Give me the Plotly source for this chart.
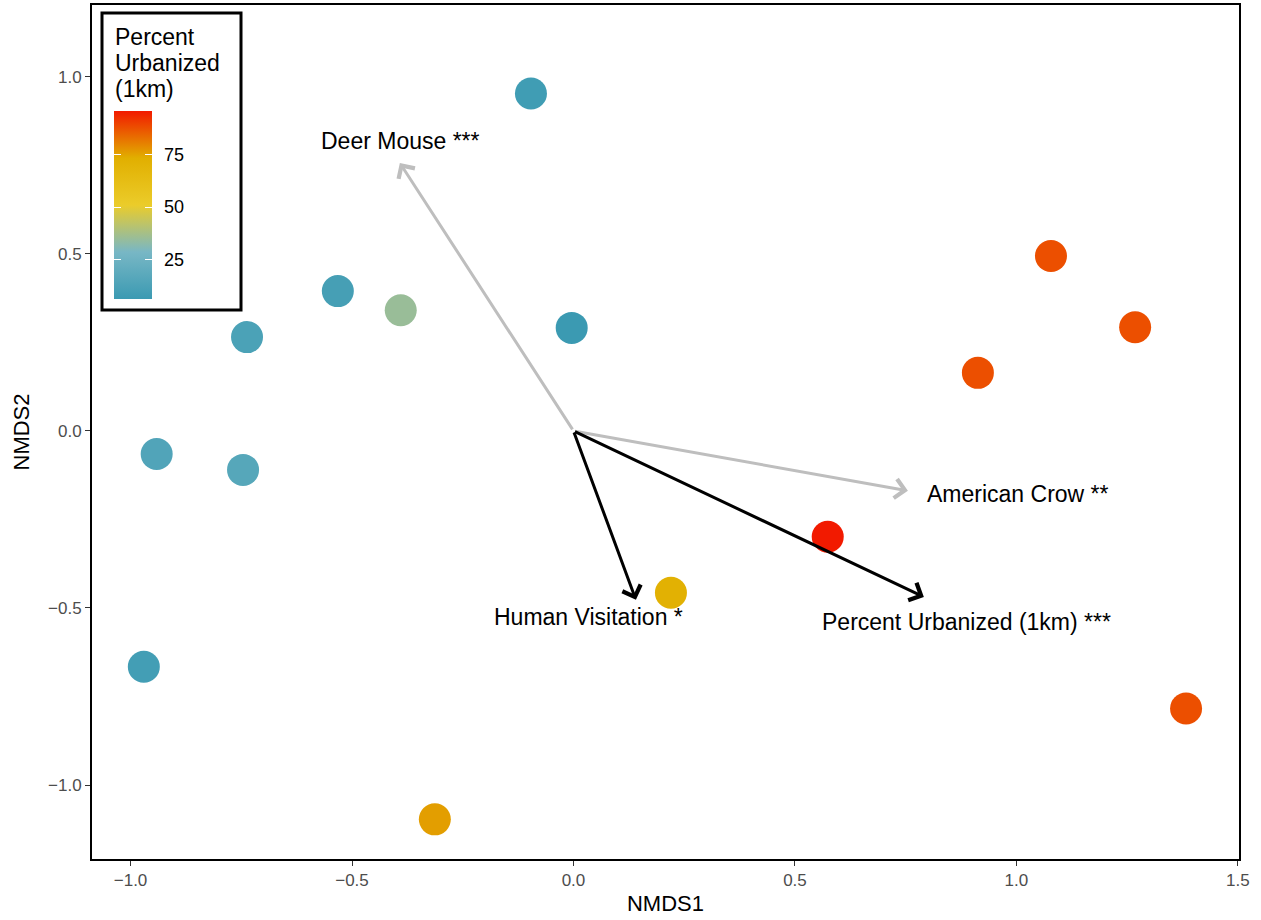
import plotly.graph_objects as go

# ---- data ----
nmds1 = [-0.096, -0.532, -0.390, -0.737, -0.004, -0.941, -0.746, -0.970,
         -0.313, 0.220, 0.574, 0.913, 1.078, 1.268, 1.383]
nmds2 = [0.953, 0.395, 0.341, 0.265, 0.291, -0.065, -0.110, -0.666,
         -1.097, -0.457, -0.299, 0.164, 0.494, 0.293, -0.784]
pct_urban = [8, 10, 35, 12, 6, 14, 16, 9, 76, 72, 96, 88, 88, 88, 88]

vec_names = ["Deer Mouse ***", "American Crow **", "Human Visitation *",
             "Percent Urbanized (1km) ***"]
vec_x = [-0.392, 0.755, 0.141, 0.791]
vec_y = [0.757, -0.169, -0.477, -0.469]
vec_colors = ["#BEBEBE", "#BEBEBE", "#000000", "#000000"]
lab_x = [-0.390, 1.003, 0.035, 0.888]
lab_y = [0.819, -0.178, -0.525, -0.540]

legend_title_lines = ["Percent", "Urbanized", "(1km)"]
cb_ticks = [25, 50, 75]
zissou = ["#3B9AB2", "#78B7C5", "#EBCC2A", "#E1AF00", "#F21A00"]

# ---- layout geometry (pixels) ----
W, H = 1261, 920
ml, mr, mt, mb = 92, 22, 5, 61
pw, ph = W - ml - mr, H - mt - mb
FONT = "Liberation Sans, Arial, Helvetica"

def px(xp):
    return (xp - ml) / pw

def py(yp):
    return (H - mb - yp) / ph

cmin, cmax = min(pct_urban), max(pct_urban)
bar_left, bar_w, bar_top, bar_len = 114, 38, 111, 188
inner_tick = 7

colorscale = [[i / (len(zissou) - 1), c] for i, c in enumerate(zissou)]
clear_scale = [[0, "rgba(0,0,0,0)"], [1, "rgba(0,0,0,0)"]]

fig = go.Figure()
fig.add_trace(go.Scatter(
    x=nmds1, y=nmds2, mode="markers",
    marker=dict(
        size=32, color=pct_urban, colorscale=colorscale,
        cmin=cmin, cmax=cmax,
        line=dict(width=0), opacity=1,
        showscale=True,
        colorbar=dict(
            thickness=bar_w, thicknessmode="pixels",
            len=bar_len, lenmode="pixels",
            x=px(bar_left), xanchor="left",
            y=py(bar_top + bar_len / 2), yanchor="middle",
            xpad=0, ypad=0, outlinewidth=0, borderwidth=0,
            tickvals=cb_ticks, ticks="outside", ticklen=9,
            tickcolor="rgba(0,0,0,0)", tickwidth=1,
            tickfont=dict(family=FONT, size=18, color="black"),
            title=dict(text=""),
        ),
    ),
    hoverinfo="skip", showlegend=False,
))

# transparent overlay colour bars that only draw white tick marks inside the bar
for left_edge in [bar_left - 1, bar_left + bar_w - inner_tick - 1]:
    fig.add_trace(go.Scatter(
        x=nmds1, y=nmds2, mode="markers",
        marker=dict(
            size=1, color=pct_urban, colorscale=clear_scale,
            cmin=cmin, cmax=cmax, opacity=0, showscale=True,
            colorbar=dict(
                thickness=1, thicknessmode="pixels",
                len=bar_len, lenmode="pixels",
                x=px(left_edge), xanchor="left",
                y=py(bar_top + bar_len / 2), yanchor="middle",
                xpad=0, ypad=0, outlinewidth=0, borderwidth=0,
                tickvals=cb_ticks, ticks="outside", ticklen=inner_tick,
                tickcolor="white", tickwidth=1, showticklabels=False,
                bgcolor="rgba(0,0,0,0)", title=dict(text=""),
            ),
        ),
        hoverinfo="skip", showlegend=False,
    ))

annotations = []
for name, vx, vy, col, lx, ly in zip(vec_names, vec_x, vec_y, vec_colors, lab_x, lab_y):
    annotations.append(dict(
        x=vx, y=vy, ax=0, ay=0, xref="x", yref="y", axref="x", ayref="y",
        text="", showarrow=True, arrowhead=4, arrowsize=1.25, arrowwidth=3,
        arrowcolor=col, standoff=0, startstandoff=0,
    ))
    annotations.append(dict(
        x=lx, y=ly, xref="x", yref="y", text=name, showarrow=False,
        xanchor="center", yanchor="middle",
        font=dict(family=FONT, size=23, color="black"),
    ))

for i, line in enumerate(legend_title_lines):
    annotations.append(dict(
        x=px(113), y=py(37 + i * 26), xref="paper", yref="paper",
        text=line, showarrow=False, xanchor="left", yanchor="middle",
        font=dict(family=FONT, size=23, color="black"),
    ))

shapes = [dict(
    type="rect", xref="paper", yref="paper",
    x0=px(102), x1=px(241), y0=py(310), y1=py(13),
    line=dict(color="black", width=3), fillcolor="white", layer="above",
)]

axis_common = dict(
    showgrid=False, zeroline=False, showline=True, mirror=True,
    linecolor="black", linewidth=2,
    ticks="outside", ticklen=5, tickcolor="#333333", tickwidth=1,
    tickfont=dict(family=FONT, size=17, color="#4D4D4D"),
)

fig.update_layout(
    width=W, height=H,
    margin=dict(l=ml, r=mr, t=mt, b=mb, pad=0, autoexpand=False),
    paper_bgcolor="white", plot_bgcolor="white",
    xaxis=dict(range=[-1.087, 1.5025], tickvals=[-1.0, -0.5, 0.0, 0.5, 1.0, 1.5],
               ticktext=["\u22121.0", "\u22120.5", "0.0", "0.5", "1.0", "1.5"],
               title=dict(text="NMDS1", standoff=6,
                          font=dict(family=FONT, size=22, color="black")),
               **axis_common),
    yaxis=dict(range=[-1.209, 1.203], tickvals=[-1.0, -0.5, 0.0, 0.5, 1.0],
               ticktext=["\u22121.0", "\u22120.5", "0.0", "0.5", "1.0"],
               title=dict(text="NMDS2", standoff=12,
                          font=dict(family=FONT, size=22, color="black")),
               **axis_common),
    annotations=annotations,
    shapes=shapes,
)

fig.write_html("out.html", config={"displayModeBar": False},
               post_script="document.body.style.margin='0px';")
